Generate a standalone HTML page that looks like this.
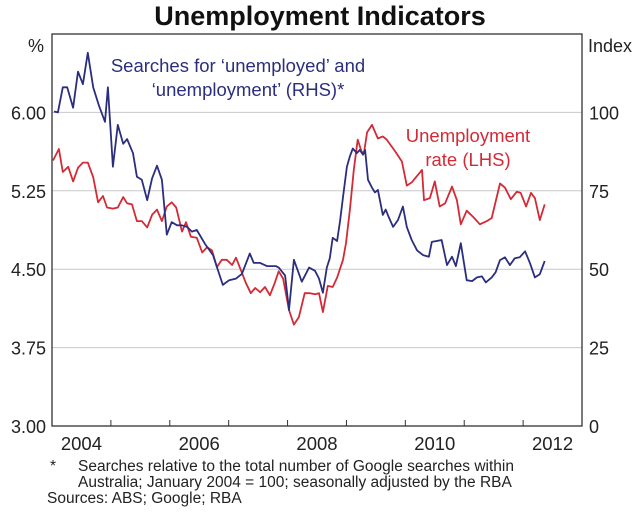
<!DOCTYPE html>
<html><head><meta charset="utf-8"><style>
html,body{margin:0;padding:0;background:#fff;}
svg{display:block;font-family:"Liberation Sans",Arial,sans-serif;}
</style></head><body>
<svg id="chart" width="640" height="517" viewBox="0 0 640 517">
<text x="320" y="25" text-anchor="middle" font-size="27" font-weight="bold" fill="#111">Unemployment Indicators</text>
<text x="36" y="52" text-anchor="middle" font-size="18" fill="#222">%</text>
<text x="588" y="52" font-size="18" fill="#222">Index</text>
<g id="grid"></g>
<g id="ticks"></g>
<g id="series"></g>
<rect x="52" y="34" width="530" height="392" fill="none" stroke="#333" stroke-width="1.3"/>
<text font-size="18.5" fill="#2b2e7e" text-anchor="middle"><tspan x="238" y="72">Searches for ‘unemployed’ and</tspan><tspan x="248" y="96">‘unemployment’ (RHS)*</tspan></text>
<text font-size="18.5" fill="#d42a35" text-anchor="middle"><tspan x="468" y="142">Unemployment</tspan><tspan x="468" y="166">rate (LHS)</tspan></text>
<g font-size="15.5" fill="#222">
<text x="50" y="471">*</text>
<text x="78" y="471">Searches relative to the total number of Google searches within</text>
<text x="78" y="487">Australia; January 2004 = 100; seasonally adjusted by the RBA</text>
<text x="47" y="503">Sources: ABS; Google; RBA</text>
</g>
</svg>
<script>
const leftTicks = ["3.00","3.75","4.50","5.25","6.00"];
const leftTickValues = [3.00,3.75,4.50,5.25,6.00];
const rightTicks = ["0","25","50","75","100"];
const rightTickValues = [0,25,50,75,100];
const yearLabels = ["2004","2006","2008","2010","2012"];
const yearLabelValues = [2004,2006,2008,2010,2012];
// months since Jan 2004
const searchMonths = [0.4,1.2,2.2,3.1,4.3,5.3,6.3,7.3,8.4,9.6,10.8,11.4,12.4,13.4,14.5,15.3,16.5,17.3,18.3,19.4,20.4,21.4,22.4,23.4,24.4,25.5,26.5,27.5,28.5,29.5,31.2,32.8,34.8,36.1,37.5,38.7,40.3,41.1,42.4,43.8,45.6,46.2,47.5,48.3,49.3,50.9,52.4,53.6,54.4,55.2,56.0,56.6,57.2,58.1,58.7,59.3,60.1,60.7,61.3,62.1,62.7,63.4,63.8,64.4,65.2,65.8,66.4,67.4,68.0,68.6,69.5,70.5,71.5,72.3,73.3,74.4,75.6,76.8,77.4,78.4,79.4,80.5,81.5,82.3,83.3,84.5,85.6,86.6,87.6,88.4,89.6,90.4,91.3,92.3,93.3,94.3,95.3,96.4,97.4,98.4,99.4,100.4];
const searchIndex = [100.3,100,108,108,101.5,113,109,119,108,102,97,108,82.7,96,90,91.5,87,79.5,78.5,72,79,83,78.5,61,65,64,64,63.5,62,62.5,58,54.5,45,46.5,47,48.5,55,52,52,51,51,50.5,48,37,53,46,50.5,49.5,47,42.5,50.5,53.5,60,59,65.5,73,82.7,86,88.5,87,88,86.5,88,78.5,76,74.5,75.3,67.3,69,66.7,63.5,65.7,70,63.5,59.3,56,54.5,54,58.7,59,59.3,51.3,54,51,58.3,46.5,46.2,47.4,47.7,45.8,47.4,49,52.9,53.8,51.3,53.5,53.8,55.7,51.9,47.4,48.4,52.6];
const rateMonths = [0.2,1.4,2.2,3.3,4.3,5.3,6.3,7.3,8.4,9.4,10.4,11.2,12.4,13.4,14.5,15.3,16.3,17.3,18.3,19.4,20.4,21.4,22.4,23.4,24.4,25.3,26.5,27.3,28.3,29.5,30.6,31.6,32.6,33.6,34.6,35.6,36.7,37.5,38.5,39.5,40.5,41.4,42.4,43.4,44.4,45.4,46.2,47.1,48.3,49.3,50.3,51.5,52.6,53.6,54.4,55.2,56.2,57.2,58.1,59.3,59.9,60.7,61.5,62.3,63.1,63.6,64.2,65.2,66.4,67.4,68.2,69.9,71.3,72.3,73.3,75.4,75.8,77.0,78.0,79.0,80.1,81.5,82.5,83.3,84.5,85.8,87.2,88.6,89.6,91.3,92.3,93.5,94.7,95.5,96.6,97.6,98.4,99.4,100.4];
const rateValues = [5.54,5.65,5.43,5.48,5.34,5.47,5.52,5.52,5.38,5.14,5.20,5.09,5.08,5.09,5.19,5.13,5.12,4.96,4.96,4.90,5.02,5.07,4.96,5.10,5.14,5.09,4.86,4.95,4.81,4.80,4.66,4.71,4.68,4.52,4.59,4.59,4.54,4.61,4.49,4.37,4.27,4.32,4.28,4.33,4.25,4.37,4.48,4.41,4.11,3.97,4.04,4.27,4.27,4.26,4.27,4.09,4.34,4.33,4.42,4.59,4.75,5.07,5.45,5.74,5.62,5.62,5.81,5.88,5.75,5.77,5.74,5.63,5.53,5.30,5.33,5.45,5.16,5.18,5.34,5.10,5.13,5.29,5.16,4.93,5.06,5.00,4.93,4.96,4.99,5.32,5.28,5.17,5.24,5.23,5.10,5.23,5.18,4.97,5.12];

const NS = "http://www.w3.org/2000/svg";
const X0 = 52, X1 = 582, Y0 = 34, Y1 = 426;
const xMonth = m => X0 + m / 108 * (X1 - X0);
const xYear = y => xMonth((y - 2004) * 12);
const yLeft = v => Y1 - (v - 3) / 3.75 * (Y1 - Y0);
const yRight = v => Y1 - v / 125 * (Y1 - Y0);
function mk(tag, attrs, parent) {
  const e = document.createElementNS(NS, tag);
  for (const k in attrs) e.setAttribute(k, attrs[k]);
  parent.appendChild(e);
  return e;
}
const grid = document.getElementById('grid');
const ticks = document.getElementById('ticks');
const series = document.getElementById('series');
leftTickValues.forEach((v, i) => {
  const y = yLeft(v);
  if (v > 3) {
    const g = mk('line', {x1: X0, x2: X1, y1: y, y2: y, stroke: '#c8c8c8', 'stroke-width': 1}, grid);
    
    
  }
  const t = mk('text', {x: 46, y: y + 7, 'text-anchor': 'end', 'font-size': 18, fill: '#222'}, ticks);
  t.textContent = leftTicks[i];
  
  
});
rightTickValues.forEach((v, i) => {
  const t = mk('text', {x: 589, y: yRight(v) + 7, 'font-size': 18, fill: '#222'}, ticks);
  t.textContent = rightTicks[i];
  
  
});
for (let yr = 2005; yr <= 2012; yr++) {
  const x = xYear(yr);
  const l = mk('line', {x1: x, x2: x, y1: Y1, y2: Y1 - 6, stroke: '#333', 'stroke-width': 1}, ticks);
  
  
}
yearLabelValues.forEach((yr, i) => {
  const t = mk('text', {x: xYear(yr + 0.5), y: 450, 'text-anchor': 'middle', 'font-size': 18.5, fill: '#222'}, ticks);
  t.textContent = yearLabels[i];
  
  
});
const rp = rateMonths.map((m, i) => xMonth(m).toFixed(1) + ',' + yLeft(rateValues[i]).toFixed(1)).join(' ');
const red = mk('polyline', {points: rp, fill: 'none', stroke: '#d42a35', 'stroke-width': 1.8, 'stroke-linejoin': 'round'}, series);


const bp = searchMonths.map((m, i) => xMonth(m).toFixed(1) + ',' + yRight(searchIndex[i]).toFixed(1)).join(' ');
const blue = mk('polyline', {points: bp, fill: 'none', stroke: '#2b2e7e', 'stroke-width': 1.8, 'stroke-linejoin': 'round'}, series);


</script>
</body></html>
